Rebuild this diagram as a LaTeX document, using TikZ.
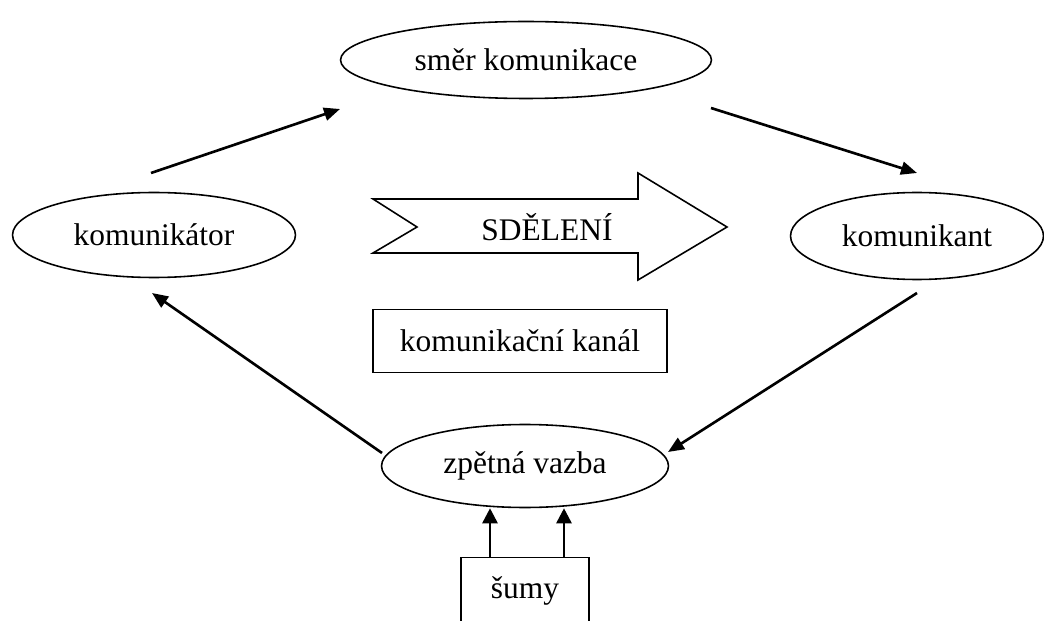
\documentclass[tikz,border=0pt]{standalone}
\usepackage{fontspec}
\setmainfont{Liberation Serif}
\usetikzlibrary{shapes.geometric,arrows.meta}

\begin{document}
\begin{tikzpicture}[
    x=0.02cm, y=-0.02cm,
    every node/.style={font=\fontsize{17.9}{21}\selectfont, inner sep=0pt},
    oval/.style={ellipse, draw, line width=0.9pt},
    box/.style={rectangle, draw, line width=0.9pt},
    link/.style={-{Triangle[length=0.32cm, width=0.26cm]}, line width=1.5pt},
    noise/.style={-{Triangle[length=0.3cm, width=0.3cm]}, line width=1.5pt}
]
    \useasboundingbox (0,0) rectangle (1044,621);
    % Nodes
    \node[oval, minimum width=7.42cm, minimum height=1.54cm] (smer) at (526,60) {směr komunikace};
    \node[oval, minimum width=5.66cm, minimum height=1.7cm] (komunikator) at (154,235) {komunikátor};
    \node[oval, minimum width=5.06cm, minimum height=1.74cm] (komunikant) at (917,236) {komunikant};
    \node[oval, minimum width=5.74cm, minimum height=1.66cm] (zpetna) at (525,466) {zpětná vazba};
    \node[box, minimum width=5.88cm, minimum height=1.26cm] (kanal) at (520,341) {komunikační kanál};
    \node[box, minimum width=2.56cm, minimum height=1.34cm] (sumy) at (525,591) {šumy};

    % SDĚLENÍ arrow
    \draw[line width=0.9pt] (373,199) -- (638,199) -- (638,173) -- (727,227) -- (638,280)
        -- (638,253) -- (373,253) -- (417,227) -- cycle;
    \node (sdeleni) at (547,227) {SDĚLENÍ};

    % Connectors
    \coordinate (kt-out) at (151,173);
    \coordinate (smer-in) at (340,109);
    \coordinate (smer-out) at (711,108);
    \coordinate (kn-in) at (917,173);
    \coordinate (kn-out) at (917,293);
    \coordinate (zv-in) at (668,452);
    \coordinate (zv-out) at (382,453);
    \coordinate (kt-in) at (152,293);
    \draw[link] (kt-out) -- (smer-in);
    \draw[link] (smer-out) -- (kn-in);
    \draw[link] (kn-out) -- (zv-in);
    \draw[link] (zv-out) -- (kt-in);
    \draw[noise] ([xshift=-0.7cm]sumy.north) -- ([xshift=-0.7cm]zpetna.south);
    \draw[noise] ([xshift=0.78cm]sumy.north) -- ([xshift=0.78cm]zpetna.south);
\end{tikzpicture}
\end{document}
